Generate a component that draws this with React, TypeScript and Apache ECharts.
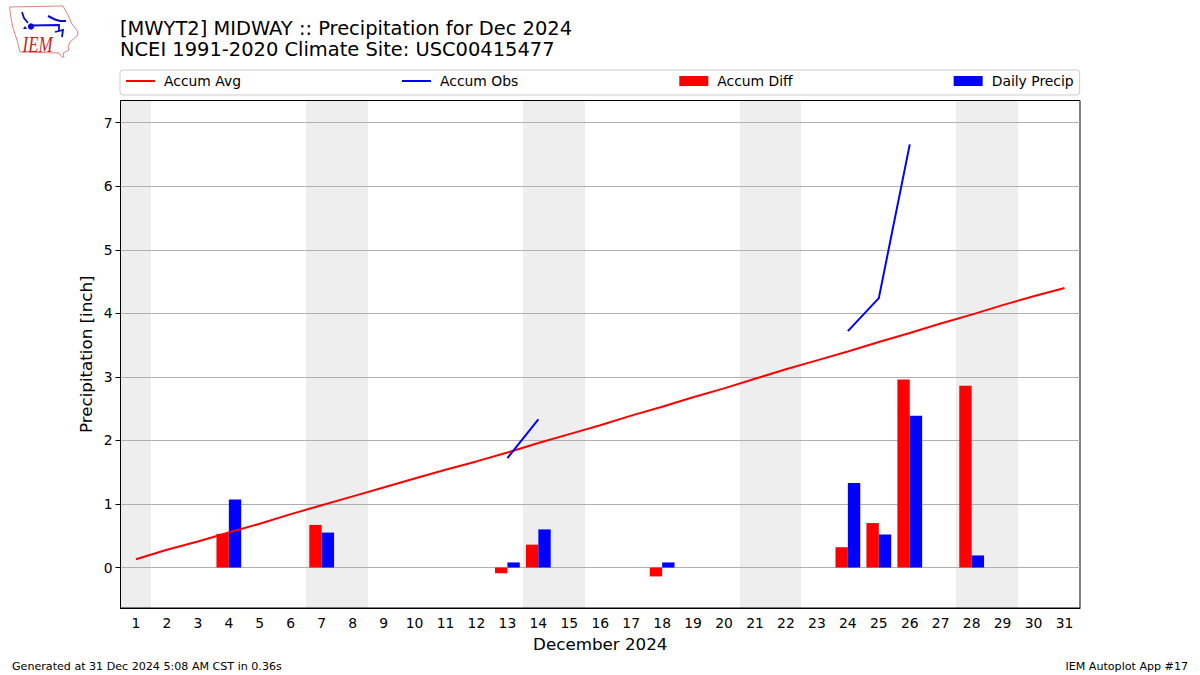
import React, { useEffect, useRef } from "react";
import * as echarts from "echarts";

const FONT = "DejaVu Sans";
const days = Array.from({ length: 31 }, (_, i) => String(i + 1));
const yTicks = [0, 1, 2, 3, 4, 5, 6, 7];
const shadedDays = ["1", "7", "8", "14", "15", "21", "22", "28", "29"];
const accumAvg = [0.13, 0.28, 0.41, 0.55, 0.69, 0.84, 0.98, 1.12, 1.26, 1.40, 1.54, 1.67, 1.81, 1.96, 2.10, 2.24, 2.39, 2.53, 2.68, 2.82, 2.97, 3.12, 3.26, 3.40, 3.55, 3.69, 3.84, 3.98, 4.13, 4.27, 4.40];
const accumObs: [string, number | null][] = [["13", 1.72], ["14", 2.33], ["15", null], ["24", 3.72], ["25", 4.24], ["26", 6.66]];
const accumDiff: [string, number][] = [["4", 0.53], ["7", 0.67], ["13", -0.09], ["14", 0.36], ["18", -0.14], ["24", 0.32], ["25", 0.70], ["26", 2.96], ["28", 2.86]];
const dailyPrecip: [string, number][] = [["4", 1.07], ["7", 0.55], ["13", 0.08], ["14", 0.60], ["18", 0.08], ["24", 1.33], ["25", 0.52], ["26", 2.39], ["28", 0.19]];
const titleLines = ["[MWYT2] MIDWAY :: Precipitation for Dec 2024", "NCEI 1991-2020 Climate Site: USC00415477"];
const footerLeft = "Generated at 31 Dec 2024 5:08 AM CST in 0.36s";
const footerRight = "IEM Autoplot App #17";
const LINE_ICON = "path://M0 0L0 0ZM0 4H29V6H0ZM0 10L0 10Z";

export default function App() {
  const ref = useRef<HTMLDivElement>(null);
  useEffect(() => {
    document.body.style.margin = "0";
    const chart = echarts.init(ref.current!, null, { renderer: "svg" });
    const logoStroke = { stroke: "#0a0ad2", lineWidth: 1.8, fill: "none" };
    chart.setOption({
      animation: false,
      textStyle: { fontFamily: FONT },
      title: {
        left: 120,
        top: 17.5,
        padding: 0,
        text: titleLines.join("\n"),
        textStyle: { fontFamily: FONT, fontSize: 19.45, fontWeight: "normal", color: "#000", lineHeight: 21.5 },
      },
      legend: {
        left: 120,
        top: 70,
        padding: [4, 6, 7, 6],
        itemGap: 161,
        itemWidth: 29,
        itemHeight: 10,
        borderColor: "#cccccc",
        borderWidth: 1,
        borderRadius: 3,
        textStyle: { fontFamily: FONT, fontSize: 13.9, color: "#000", padding: [0, 0, 0, 4] },
        data: [
          { name: "Accum Avg", icon: LINE_ICON },
          { name: "Accum Obs", icon: LINE_ICON },
          { name: "Accum Diff", icon: "rect" },
          { name: "Daily Precip", icon: "rect" },
        ],
      },
      grid: { left: 120.5, top: 100.5, right: 120, bottom: 67, show: true, borderColor: "#000", borderWidth: 1, backgroundColor: "transparent" },
      xAxis: {
        type: "category",
        data: days,
        name: "December 2024",
        nameLocation: "middle",
        nameGap: 27,
        nameTextStyle: { fontFamily: FONT, fontSize: 16.7, color: "#000" },
        axisLine: { onZero: false, lineStyle: { color: "#000", width: 1 } },
        axisTick: { alignWithLabel: true, length: 5, lineStyle: { color: "#000" } },
        axisLabel: { interval: 0, margin: 8, color: "#000", fontFamily: FONT, fontSize: 13.9 },
        splitLine: { show: false },
      },
      yAxis: {
        type: "value",
        min: -0.637,
        max: 7.35,
        name: "Precipitation [inch]",
        nameLocation: "middle",
        nameGap: 26,
        nameMoveOverlap: false,
        nameTextStyle: { fontFamily: FONT, fontSize: 16.7, color: "#000" },
        axisLine: { show: true, onZero: false, lineStyle: { color: "#000", width: 1 } },
        axisTick: { show: true, length: 5, customValues: yTicks, lineStyle: { color: "#000" } },
        axisLabel: { customValues: yTicks, margin: 8, color: "#000", fontFamily: FONT, fontSize: 13.9 },
        splitLine: { show: true, lineStyle: { color: "#b0b0b0", width: 1 } },
      },
      graphic: [
        { type: "text", left: 12, top: 661, silent: true, style: { text: footerLeft, fontFamily: FONT, fontSize: 11.1, fill: "#000" } },
        { type: "text", right: 12, top: 661, silent: true, style: { text: footerRight, fontFamily: FONT, fontSize: 11.1, fill: "#000" } },
        {
          type: "polygon",
          silent: true,
          shape: { points: [[9.5, 7], [63, 6], [68, 15], [72, 24], [78, 32], [77, 36], [70, 42], [68, 47], [69, 50], [63, 53], [64, 57], [62, 57], [59, 53], [20, 52], [17, 40], [13, 28], [11, 18]] },
          style: { fill: "#fff", stroke: "#e58080", lineWidth: 1 },
        },
        { type: "circle", silent: true, shape: { cx: 31, cy: 26.5, r: 3.2 }, style: { fill: "#0a0ad2" } },
        { type: "polyline", silent: true, shape: { points: [[31, 25.5], [59, 25], [59, 31]] }, style: logoStroke },
        { type: "polyline", silent: true, shape: { points: [[48, 16], [55, 19.5], [60, 21], [66, 21]] }, style: { ...logoStroke, lineWidth: 2.2 } },
        { type: "polyline", silent: true, shape: { points: [[22, 12], [24, 18], [28, 23]] }, style: logoStroke },
        { type: "polyline", silent: true, shape: { points: [[55, 32], [63, 30], [62, 37]] }, style: logoStroke },
        { type: "polygon", silent: true, shape: { points: [[23, 29], [25, 26], [27, 29]] }, style: { fill: "#0a0ad2" } },
        { type: "text", silent: true, x: 22.5, y: 33.5, scaleY: 1.3, style: { text: "IEM", fontFamily: "Liberation Serif", fontStyle: "italic", fontSize: 17, fill: "#d02020" } },
      ],
      series: [
        {
          name: "Weekend",
          type: "custom",
          z: -1,
          silent: true,
          data: shadedDays.map((d) => [d]),
          encode: { x: 0 },
          clip: true,
          renderItem: (params: any, api: any) => {
            const c = api.coord([api.value(0), 0]);
            const w = api.size([1, 0])[0];
            const cs = params.coordSys;
            const x0 = Math.round(c[0] - w / 2);
            const x1 = Math.round(c[0] + w / 2);
            return { type: "rect", shape: { x: x0, y: cs.y, width: x1 - x0, height: cs.height }, style: { fill: "#eeeeee" } };
          },
        },
        { name: "Accum Diff", type: "bar", barWidth: "40%", barGap: 0, itemStyle: { color: "#ff0000" }, data: accumDiff },
        { name: "Daily Precip", type: "bar", barWidth: "40%", barGap: 0, itemStyle: { color: "#0000ff" }, data: dailyPrecip },
        { name: "Accum Avg", type: "line", symbol: "none", z: 3, lineStyle: { color: "#ff0000", width: 2 }, itemStyle: { color: "#ff0000" }, data: accumAvg },
        { name: "Accum Obs", type: "line", symbol: "none", z: 3, connectNulls: false, lineStyle: { color: "#0000ff", width: 2 }, itemStyle: { color: "#0000ff" }, data: accumObs },
      ],
    });
    return () => chart.dispose();
  }, []);
  return <div ref={ref} style={{ width: 1200, height: 675, background: "#fff" }} />;
}
